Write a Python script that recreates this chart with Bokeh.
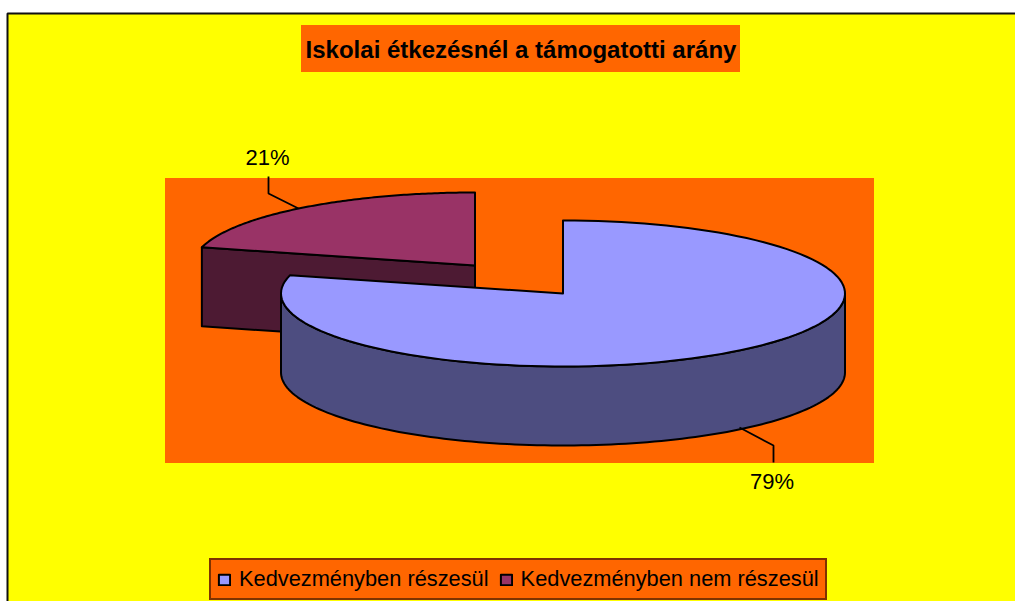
import numpy as np
from bokeh.embed import file_html
from bokeh.resources import INLINE
from bokeh.plotting import figure
from bokeh.models import Range1d, Legend, LegendItem
from bokeh.core.properties import value

title = "Iskolai étkezésnél a támogatotti arány"
categories = ["Kedvezményben részesül", "Kedvezményben nem részesül"]
shares = [79, 21]
top_colors = ["#9999FF", "#993366"]
side_colors = ["#4D4D80", "#4D1A33"]

YELLOW, ORANGE, FONT = "#FFFF00", "#FF6600", "Liberation Sans"
RX, RY, DEPTH = 282, 73, 79
CX, CY = 562.5, 293
EXPLODE = (-88, -28)

p = figure(width=1015, height=601, output_backend="svg", toolbar_location=None,
           x_range=Range1d(0, 1015), y_range=Range1d(601, 0), min_border=0,
           border_fill_color="white", background_fill_color="white", outline_line_color=None)
p.axis.visible = False
p.grid.visible = False


def arc(cx, cy, a0, a1, n=120):
    a = np.radians(np.linspace(a0, a1, n))
    return cx + RX * np.sin(a), cy - RY * np.cos(a)


# chart area, plot area and title box
p.quad(left=[7], right=[1040], top=[13], bottom=[640], fill_color=YELLOW, line_color="#111111", line_width=2)
p.quad(left=[164.5], right=[873.5], top=[177.5], bottom=[462.5], fill_color=ORANGE, line_color=None)
p.quad(left=[300.5], right=[739.5], top=[24.5], bottom=[71.5], fill_color=ORANGE, line_color=None)
p.text(x=[520.5], y=[49], text=[title], text_align="center", text_baseline="middle",
       text_font=value(FONT), text_font_style="bold", text_font_size="24px", text_color="black")

split = shares[0] / sum(shares) * 360
cx2, cy2 = CX + EXPLODE[0], CY + EXPLODE[1]
LW = 2

# exploded slice
ex, ey = arc(cx2, cy2, split, split, 1)
p.patch(x=[ex[0], cx2, cx2, ex[0]], y=[ey[0], cy2, cy2 + DEPTH, ey[0] + DEPTH],
        fill_color=side_colors[1], line_color="black", line_width=LW, line_join="round")
x2, y2 = arc(cx2, cy2, split, 360)
top2 = p.patch(x=np.r_[x2, cx2], y=np.r_[y2, cy2], fill_color=top_colors[1], line_color="black",
               line_width=LW, line_join="round")

# main slice
x1, y1 = arc(CX, CY, 90, 270)
p.patch(x=np.r_[x1, x1[::-1]], y=np.r_[y1, y1[::-1] + DEPTH], fill_color=side_colors[0],
        line_color="black", line_width=LW, line_join="round")
x1, y1 = arc(CX, CY, 0, split)
top1 = p.patch(x=np.r_[x1, CX], y=np.r_[y1, CY], fill_color=top_colors[0], line_color="black",
               line_width=LW, line_join="round")

# leader lines and data labels
p.line([268, 268, 298], [176, 193, 208], line_color="black", line_width=1.8)
p.line([739, 773, 773], [427, 445, 462], line_color="black", line_width=1.8)
p.text(x=[267, 771.5], y=[156.5, 480.5], text=[f"{shares[1]}%", f"{shares[0]}%"], text_align="center",
       text_baseline="middle", text_font=value(FONT), text_font_size="22px", text_color="black")

legend = Legend(items=[LegendItem(label=categories[0], renderers=[top1]),
                       LegendItem(label=categories[1], renderers=[top2])],
                orientation="horizontal", location=(209, 1), margin=0, padding=6, spacing=10,
                glyph_width=14, glyph_height=13, label_standoff=8,
                label_text_font=FONT, label_text_font_size="21.8px", label_text_color="black",
                background_fill_color=ORANGE, background_fill_alpha=1,
                border_line_color="black", border_line_width=2)
p.add_layout(legend, "center")

open("out.html", "w").write(file_html(p, INLINE))
